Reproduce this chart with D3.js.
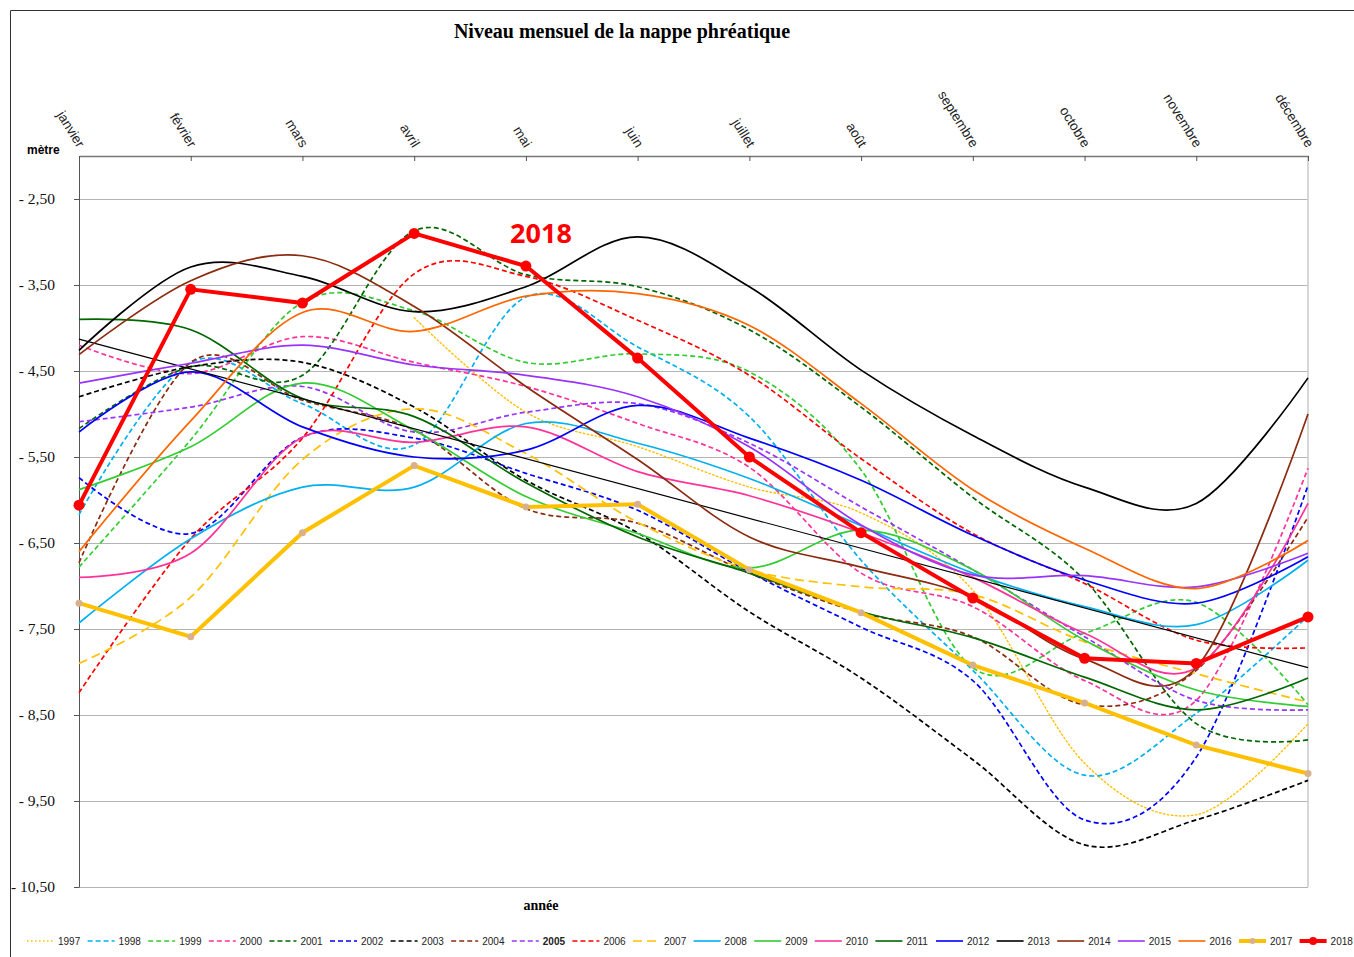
<!DOCTYPE html>
<html>
<head>
<meta charset="utf-8">
<script src="https://cdn.jsdelivr.net/npm/d3@7"></script>
<style>
  body { margin: 0; background: #fff; }
</style>
</head>
<body>
<svg id="chart" width="1354" height="957"></svg>
<script>
// months on the top axis
var months = ["janvier", "février", "mars", "avril", "mai", "juin", "juillet", "août", "septembre", "octobre", "novembre", "décembre"];
var yTicks = [-2.5, -3.5, -4.5, -5.5, -6.5, -7.5, -8.5, -9.5, -10.5];

// monthly water table level (m), one array per year
var y1997 = [null, null, null, -3.88, -4.98, -5.38, -5.85, -6.15, -7.05, -9.06, -9.66, -8.60];
var y1998 = [-6.17, -4.40, -4.88, -5.36, -3.64, -4.22, -5.03, -6.70, -7.98, -9.20, -8.48, -7.35];
var y1999 = [-6.78, -5.30, -3.70, -3.80, -4.40, -4.30, -4.51, -5.65, -7.95, -7.55, -7.19, -8.38];
var y2000 = [-4.20, -4.53, -4.10, -4.40, -4.68, -5.11, -5.62, -6.85, -7.24, -8.10, -8.33, -5.63];
var y2001 = [-5.17, -4.45, -4.55, -2.87, -3.38, -3.52, -4.02, -4.92, -5.97, -6.93, -8.60, -8.79];
var y2002 = [-5.74, -6.39, -5.27, -5.28, -5.69, -6.12, -6.84, -7.48, -8.10, -9.72, -8.99, -5.83];
var y2003 = [-4.80, -4.45, -4.40, -4.92, -5.77, -6.38, -7.30, -8.07, -9.02, -10.01, -9.72, -9.26];
var y2004 = [-6.73, -4.40, -4.84, -5.19, -6.10, -6.27, -6.85, -7.31, -7.59, -8.38, -7.98, -6.20];
var y2005 = [-5.09, -4.92, -4.68, -5.21, -4.98, -4.88, -5.34, -6.08, -6.81, -7.59, -8.33, -8.44];
var y2006 = [-8.24, -6.45, -5.28, -3.37, -3.40, -3.91, -4.55, -5.52, -6.39, -6.97, -7.63, -7.72];
var y2007 = [-7.90, -7.13, -5.53, -4.94, -5.46, -6.26, -6.81, -7.01, -7.10, -7.65, -8.02, -8.35];
var y2008 = [-7.43, -6.45, -5.85, -5.85, -5.11, -5.34, -5.75, -6.30, -6.85, -7.24, -7.45, -6.70];
var y2009 = [-5.88, -5.38, -4.64, -5.19, -5.96, -6.39, -6.79, -6.35, -6.81, -7.63, -8.21, -8.40];
var y2010 = [-6.90, -6.62, -5.27, -5.33, -5.15, -5.67, -5.95, -6.38, -6.90, -7.55, -7.95, -6.04];
var y2011 = [-3.90, -4.02, -4.82, -5.03, -5.80, -6.43, -6.85, -7.30, -7.60, -8.06, -8.44, -8.07];
var y2012 = [-5.21, -4.51, -5.15, -5.50, -5.42, -4.90, -5.28, -5.77, -6.41, -6.93, -7.20, -6.66];
var y2013 = [-4.26, -3.29, -3.40, -3.81, -3.52, -2.94, -3.52, -4.49, -5.25, -5.85, -6.04, -4.58];
var y2014 = [-4.31, -3.45, -3.16, -3.75, -4.68, -5.53, -6.43, -6.78, -7.13, -7.85, -7.95, -5.00];
var y2015 = [-4.64, -4.41, -4.20, -4.43, -4.55, -4.80, -5.38, -6.29, -6.87, -6.88, -7.01, -6.62];
var y2016 = [-6.60, -5.08, -3.82, -4.04, -3.63, -3.60, -3.97, -4.88, -5.88, -6.56, -7.03, -6.47];
var y2017 = [-7.20, -7.59, -6.38, -5.60, -6.08, -6.05, -6.81, -7.31, -7.92, -8.36, -8.85, -9.18];
var y2018 = [-6.06, -3.55, -3.71, -2.90, -3.28, -4.35, -5.50, -6.38, -7.14, -7.84, -7.90, -7.36];

// straight black line across the plot (janvier -> décembre)
var trendMonths = ["janvier", "décembre"];
var trendValues = [-4.13, -7.95];

var years = ["1997", "1998", "1999", "2000", "2001", "2002", "2003", "2004", "2005", "2006", "2007",
             "2008", "2009", "2010", "2011", "2012", "2013", "2014", "2015", "2016", "2017", "2018"];
var yearValues = [y1997, y1998, y1999, y2000, y2001, y2002, y2003, y2004, y2005, y2006, y2007,
                  y2008, y2009, y2010, y2011, y2012, y2013, y2014, y2015, y2016, y2017, y2018];

// styles
var colors = {
  "1997": "#FFC000", "1998": "#00B0F0", "1999": "#33CC33", "2000": "#FF3399", "2001": "#006600",
  "2002": "#0000FF", "2003": "#000000", "2004": "#8B2B10", "2005": "#9933FF", "2006": "#FF0000",
  "2007": "#FFC000", "2008": "#00B0F0", "2009": "#33CC33", "2010": "#FF3399", "2011": "#006600",
  "2012": "#0000FF", "2013": "#000000", "2014": "#8B2B10", "2015": "#9933FF", "2016": "#FF6600",
  "2017": "#FFC000", "2018": "#FF0000"
};
var dashes = {
  "1997": "1.5,2.5", "1998": "5,3", "1999": "5,3", "2000": "5,3", "2001": "5,3", "2002": "5,3",
  "2003": "5,3", "2004": "5,3", "2005": "5,3", "2006": "5,3", "2007": "9,5"
};

var svgWidth = 1354;
var svgHeight = 957;
var margin = { top: 156, right: 46, bottom: 70, left: 79 };
var width = svgWidth - margin.left - margin.right;
var height = 887 - margin.top;

var svg = d3.select("#chart");

// outer frame
svg.append("path")
  .attr("d", "M10.5,957 L10.5,10.5 L1354,10.5")
  .attr("fill", "none")
  .attr("stroke", "#333")
  .attr("stroke-width", 1);

var chartGroup = svg.append("g")
  .attr("transform", `translate(${margin.left}, ${margin.top})`);

var xScale = d3.scalePoint().domain(months).range([0, width]);
var yScale = d3.scaleLinear().domain([-2, -10.5]).range([0, height]);

// gridlines
chartGroup.append("g")
  .attr("class", "grid")
  .call(d3.axisLeft(yScale).tickValues(yTicks).tickSize(-width).tickFormat(""))
  .call(g => g.select(".domain").remove())
  .call(g => g.selectAll("line").attr("stroke", "#b4b4b4").attr("stroke-width", 1.2));

// right border of plot
chartGroup.append("line")
  .attr("x1", width).attr("x2", width)
  .attr("y1", 0).attr("y2", height)
  .attr("stroke", "#c8c8c8").attr("stroke-width", 1.5);

// left axis
chartGroup.append("g")
  .call(d3.axisLeft(yScale).tickValues(yTicks).tickSize(5).tickSizeOuter(0).tickPadding(19)
    .tickFormat(d => "- " + Math.abs(d).toFixed(2).replace(".", ",")))
  .call(g => g.select(".domain").attr("stroke", "#555"))
  .call(g => g.selectAll(".tick line").attr("stroke", "#555"))
  .call(g => g.selectAll("text")
    .attr("font-family", "'Liberation Serif', 'Times New Roman', serif")
    .attr("font-size", 15.5)
    .attr("fill", "#111"));

// top axis with rotated month names
chartGroup.append("g")
  .call(d3.axisTop(xScale).tickSize(-5).tickSizeOuter(0))
  .call(g => g.select(".domain").attr("stroke", "#777").attr("stroke-width", 1.5))
  .call(g => g.selectAll(".tick line").attr("stroke", "#555"))
  .call(g => g.selectAll("text")
    .attr("x", 0).attr("y", 0).attr("dy", "0.35em")
    .attr("text-anchor", "end")
    .attr("transform", "translate(2,-10) rotate(58)")
    .attr("font-family", "'Liberation Sans', Arial, sans-serif")
    .attr("font-size", 13.5)
    .attr("fill", "#222"));

// series
var series = years.map((yr, i) => ({ year: yr, values: yearValues[i] }));

var smoothLine = d3.line()
  .defined(d => d.v !== null)
  .x(d => xScale(d.m))
  .y(d => yScale(d.v))
  .curve(d3.curveCatmullRom.alpha(0));

var straightLine = d3.line()
  .defined(d => d.v !== null)
  .x(d => xScale(d.m))
  .y(d => yScale(d.v));

var trendPts = trendMonths.map((m, i) => ({ m: m, v: trendValues[i] }));

series.forEach(function(s, i) {
  var pts = s.values.map((v, j) => ({ m: months[j], v: v }));
  var thick = s.year === "2017" || s.year === "2018";
  chartGroup.append("path")
    .datum(pts)
    .attr("fill", "none")
    .attr("stroke", colors[s.year])
    .attr("stroke-width", thick ? 4 : (s.year === "1997" ? 1.4 : 1.7))
    .attr("stroke-dasharray", dashes[s.year] || null)
    .attr("stroke-linecap", s.year === "1997" ? "round" : "butt")
    .attr("d", thick ? straightLine : smoothLine);

  // thin straight black line drawn right after 2013
  if (s.year === "2013") {
    chartGroup.append("path")
      .datum(trendPts)
      .attr("fill", "none")
      .attr("stroke", "#000")
      .attr("stroke-width", 1.2)
      .attr("d", straightLine);
  }
});

// markers for 2017 and 2018
chartGroup.selectAll(".m2017")
  .data(y2017.map((v, j) => ({ m: months[j], v: v })))
  .enter()
  .append("circle")
  .attr("class", "m2017")
  .attr("cx", d => xScale(d.m))
  .attr("cy", d => yScale(d.v))
  .attr("r", 3.5)
  .attr("fill", "#D9B08C");

chartGroup.selectAll(".m2018")
  .data(y2018.map((v, j) => ({ m: months[j], v: v })))
  .enter()
  .append("circle")
  .attr("class", "m2018")
  .attr("cx", d => xScale(d.m))
  .attr("cy", d => yScale(d.v))
  .attr("r", 5.5)
  .attr("fill", "#FF0000");

// annotation
svg.append("text")
  .attr("x", 541).attr("y", 243)
  .attr("text-anchor", "middle")
  .attr("font-family", "'Open Sans', Lato, sans-serif")
  .attr("font-weight", "bold")
  .attr("font-size", 27)
  .attr("fill", "#FF0000")
  .text("2018");

// title and axis names
svg.append("text")
  .attr("x", 622).attr("y", 38)
  .attr("text-anchor", "middle")
  .attr("font-family", "'Liberation Serif', 'Times New Roman', serif")
  .attr("font-weight", "bold")
  .attr("font-size", 20)
  .text("Niveau mensuel de la nappe phréatique");

svg.append("text")
  .attr("x", 27).attr("y", 154)
  .attr("font-family", "'Liberation Sans', Arial, sans-serif")
  .attr("font-weight", "bold")
  .attr("font-size", 12)
  .text("mètre");

svg.append("text")
  .attr("x", 541).attr("y", 910)
  .attr("text-anchor", "middle")
  .attr("font-family", "'Liberation Serif', 'Times New Roman', serif")
  .attr("font-weight", "bold")
  .attr("font-size", 14)
  .text("année");

// legend
var legend = svg.append("g").attr("transform", "translate(27, 941)");
var items = legend.selectAll("g")
  .data(years)
  .enter()
  .append("g")
  .attr("transform", (d, i) => `translate(${i * 60.6}, 0)`);

items.append("line")
  .attr("x1", 0).attr("x2", 27)
  .attr("y1", 0).attr("y2", 0)
  .attr("stroke", d => colors[d])
  .attr("stroke-width", d => (d === "2017" || d === "2018") ? 4 : 1.6)
  .attr("stroke-dasharray", d => dashes[d] || null);

items.filter(d => d === "2017" || d === "2018")
  .append("circle")
  .attr("cx", 13.5).attr("cy", 0)
  .attr("r", d => d === "2018" ? 4 : 3)
  .attr("fill", d => d === "2018" ? "#FF0000" : "#D9B08C");

items.append("text")
  .attr("x", 31).attr("y", 0)
  .attr("dy", "0.35em")
  .attr("font-family", "'Liberation Sans', Arial, sans-serif")
  .attr("font-size", 10)
  .attr("font-weight", d => d === "2005" ? "bold" : "normal")
  .attr("fill", "#222")
  .text(d => d);
</script>
</body>
</html>
